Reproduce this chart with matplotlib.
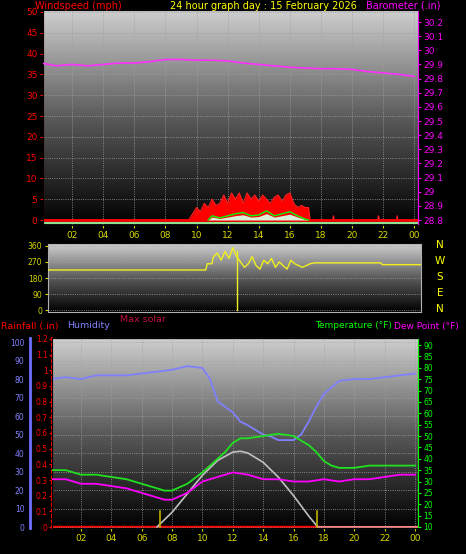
import numpy as np
import matplotlib
matplotlib.use("Agg")
import matplotlib.pyplot as plt

# ---------------- data ----------------
baro_h = [0,1,2,3,4,5,6,7,8,9,10,11,12,13,14,15,16,17,18,19,20,21,22,23,24]
baro_v = [29.91,29.89,29.90,29.89,29.90,29.91,29.91,29.92,29.935,29.935,29.93,29.93,29.925,29.91,
          29.90,29.89,29.88,29.875,29.87,29.87,29.865,29.85,29.84,29.83,29.815]

gust_h = [0,9.5,9.75,10,10.25,10.5,10.75,11,11.25,11.5,11.75,12,12.25,12.5,12.75,13,13.25,13.5,13.75,
          14,14.25,14.5,14.75,15,15.25,15.5,15.75,16,16.25,16.5,16.75,17,17.2,17.3,18.75,18.8,18.85,
          21.65,21.7,21.75,22.85,22.9,22.95,24.3]
gust_v = [0,0,1.5,3,2,4,3,5,3.5,4,6,4,6.5,5,6.5,4,6.5,5,6,4.5,6,5,4,5.5,6,4.5,6,6.5,4,3,3.5,3,3,0,0,1,0,
          0,1,0,0,1,0,0]
avg_h = [10.75,11,11.5,12,12.5,13,13.5,14,14.5,15,15.5,16,16.5,17,17.2]
avg_v = [0,1,0.5,1,1.5,1.8,1,1.2,2.2,1,1.5,2,1,0.2,0]

dir_h = [0,10.5,10.6,10.9] + [11+0.25*i for i in range(26)] + [17.5,21.8,21.9,24.4]
dir_v = [225,225,260,260,300,320,280,330,290,350,300,270,240,260,300,250,230,280,260,290,240,270,
         250,230,280,260,250,240,250,260,265,265,255,255]

hum_h = [0,1,2,3,4,5,6,7,8,9,10,10.5,11,12,12.5,13,14,14.5,15,16,16.5,17,17.5,18,19,20,21,22,23,24]
hum_v = [80,81,80,82,82,82,83,84,85,87,86,80,68,62,57,55,50,49,47,47,50,57,65,72,79,80,80,81,82,83]

temp_h = [0,1,2,3,4,5,6,7,7.5,8,9,10,11,11.5,12,12.5,13,14,15,16,16.5,17,17.5,18,18.5,19,20,21,22,23,24]
temp_v = [35,35,33,33,32,31,29,27,26,26,29,34,40,43,47,49,49,50,51,50,48,46,43,39,37,36,36,37,37,37,37]

dew_h = [0,1,2,3,4,5,6,7,7.5,8,9,10,11,12,13,14,15,16,17,18,19,20,21,22,23,24]
dew_v = [31,31,29,29,28,27,25,23,22,22,25,30,32,34,33,31,31,30,30,31,30,31,31,32,33,33]

sol_h = [7,8,9,10,11,12,12.5,13,14,15,16,17,17.6]
sol_v = [0,8,18,28,36,40.5,41,40,35,27,17,6,0]
sun_marks = [7.2, 17.55]

tick_hours = [2,4,6,8,10,12,14,16,18,20,22,24]
tick_labels = ["02","04","06","08","10","12","14","16","18","20","22","00"]

# ---------------- figure ----------------
W, H = 466, 554
fig = plt.figure(figsize=(W/100, H/100), dpi=100, facecolor="black")
FS = 6.5

def rect(l, r, t, b):
    return [l/W, 1-b/H, (r-l)/W, (b-t)/H]

grad = np.linspace(0, 1, 256).reshape(-1, 1)
from matplotlib.colors import LinearSegmentedColormap
cmap = LinearSegmentedColormap.from_list("g", ["#cfcfcf", "#5a5a5a", "#000000"])

def bg(ax):
    ax.imshow(grad, aspect="auto", cmap=cmap, extent=[0, 1, 0, 1], transform=ax.transAxes, zorder=0)
    ax.set_facecolor("black")
    for s in ax.spines.values():
        s.set_color("#b0b0b0")

def xfmt(ax, labels=True):
    ax.set_xticks(tick_hours)
    ax.set_xticklabels(tick_labels if labels else [])
    ax.tick_params(axis="x", colors="#d8d800", labelsize=FS, length=2, pad=2)
    ax.grid(True, color="#a0a0a0", linestyle=":", linewidth=0.6)

# ---- top: wind & barometer ----
ax1 = fig.add_axes(rect(43, 418, 10, 225))
bg(ax1)
ax1.set_xlim(0.13, 24.24)
ax1.set_ylim(-1.2, 50.48)
ax1.set_yticks(range(0, 51, 5))
ax1.tick_params(axis="y", colors="red", labelsize=FS, length=2, pad=2)
xfmt(ax1)
ax1.spines["left"].set_color("red")
ax1.spines["left"].set_linestyle(":")
ax1.fill_between(gust_h, 0, gust_v, color="red", zorder=3, linewidth=0)
ax1.plot(gust_h, gust_v, color="#ff2020", lw=0.8, zorder=3)
ax1.plot([0, 24.3], [0, 0], color="red", lw=2, zorder=3)
ax1.fill_between(avg_h, 0, [v*0.7 for v in avg_v], color="#d8f0d8", zorder=4, linewidth=0)
ax1.plot(avg_h, avg_v, color="#00ff00", lw=1, zorder=5)
ax1.plot([0, 24.3], [-0.8, -0.8], color="#90e090", lw=1.5, zorder=5)
ax1b = ax1.twinx()
ax1b.set_ylim(28.765, 30.285)
ax1b.set_yticks([28.8,28.9,29.0,29.1,29.2,29.3,29.4,29.5,29.6,29.7,29.8,29.9,30.0,30.1,30.2])
ax1b.set_yticklabels(["28.8","28.9","29","29.1","29.2","29.3","29.4","29.5","29.6","29.7","29.8",
                      "29.9","30","30.1","30.2"])
ax1b.tick_params(axis="y", colors="#ff00ff", labelsize=FS, length=2, pad=2)
ax1b.spines["right"].set_color("#ff00ff")
ax1b.plot(baro_h, baro_v, color="#ff30ff", lw=1.2, zorder=6)

fig.text(35/W, 1-6/H, "Windspeed (mph)", color="red", fontsize=7, va="center", ha="left")
fig.text(263/W, 1-6/H, "24 hour graph day : 15 February 2026", color="yellow", fontsize=7, va="center", ha="center")
fig.text(440/W, 1-6/H, "Barometer (.in)", color="#ff00ff", fontsize=7, va="center", ha="right")

# ---- middle: wind direction ----
ax2 = fig.add_axes(rect(48, 421, 244, 312))
bg(ax2)
ax2.set_xlim(0.32, 24.4)
ax2.set_ylim(-11, 371)
ax2.set_yticks([0, 90, 180, 270, 360])
ax2.tick_params(axis="y", colors="#d8d800", labelsize=5.5, length=2, pad=2)
ax2.set_xticks(tick_hours)
ax2.set_xticklabels([])
ax2.tick_params(axis="x", length=0)
ax2.grid(True, axis="y", color="#a0a0a0", linestyle=":", linewidth=0.6)
ax2.plot(dir_h, dir_v, color="#f0f020", lw=1, zorder=3)
ax2.plot([12.55, 12.55], [0, 330], color="#f0f020", lw=1, zorder=3)
for i, c in enumerate(["N", "W", "S", "E", "N"]):
    fig.text(440/W, 1-(245+i*16)/H, c, color="yellow", fontsize=7.5, ha="center", va="center")

# ---- bottom: rain / humidity / temp ----
ax3 = fig.add_axes(rect(52, 418, 338, 528))
bg(ax3)
ax3.set_xlim(0.09, 24.2)
ax3.set_ylim(-0.006, 1.206)
ax3.set_yticks([0,0.1,0.2,0.3,0.4,0.5,0.6,0.7,0.8,0.9,1.0,1.1,1.2])
ax3.set_yticklabels(["0","0.1","0.2","0.3","0.4","0.5","0.6","0.7","0.8","0.9","1","1.1","1.2"])
ax3.tick_params(axis="y", colors="red", labelsize=5.5, length=2, pad=1)
ax3.spines["left"].set_color("red")
ax3.spines["left"].set_linestyle(":")
ax3.spines["left"].set_linewidth(1.5)
xfmt(ax3)
ax3.grid(False, axis="y")
ax3.plot([0, 17.6], [0, 0], color="red", lw=2.5, zorder=4)
ax3.plot([17.6, 24.2], [0, 0], color="#ff8080", lw=1.5, zorder=4)

axh = ax3.twinx()
axh.spines["right"].set_visible(False)
axh.spines["left"].set_visible(True)
axh.spines["left"].set_position(("axes", -22/366))
axh.spines["left"].set_color("#7070ff")
axh.spines["left"].set_linewidth(2)
axh.yaxis.set_ticks_position("left")
axh.yaxis.set_label_position("left")
axh.set_ylim(-0.5, 102.2)
axh.set_yticks(range(0, 101, 10))
axh.tick_params(axis="y", colors="#8080ff", labelsize=5.5, length=0, pad=4)
axh.grid(True, axis="y", color="#a0a0a0", linestyle=":", linewidth=0.6)
axh.plot(hum_h, hum_v, color="#8080ff", lw=1.3, zorder=5)
axh.plot(sol_h, sol_v, color="#c0c0c0", lw=1.2, zorder=5)
for s in sun_marks:
    axh.plot([s, s], [0, 8.5], color="#c0b000", lw=1.2, zorder=6)

axt = ax3.twinx()
axt.spines["right"].set_color("#00ff00")
axt.set_ylim(9.56, 93.1)
axt.set_yticks(range(10, 91, 5))
axt.tick_params(axis="y", colors="#00ff00", labelsize=5.5, length=2, pad=2)
axt.plot(temp_h, temp_v, color="#20e020", lw=1.3, zorder=5)
axt.plot(dew_h, dew_v, color="#ff00ff", lw=1.3, zorder=5)

fig.text(1/W, 1-326/H, "Rainfall (.in)", color="red", fontsize=6.8, va="center")
fig.text(67/W, 1-326/H, "Humidity", color="#8080ff", fontsize=6.8, va="center")
fig.text(120/W, 1-319/H, "Max solar", color="#c01040", fontsize=6.8, va="center")
fig.text(392/W, 1-326/H, "Temperature (°F)", color="#00ff00", fontsize=6.5, va="center", ha="right")
fig.text(394/W, 1-326/H, "Dew Point (°F)", color="#ff00ff", fontsize=6.5, va="center", ha="left")

fig.savefig("out.png", dpi=100, facecolor="black")
